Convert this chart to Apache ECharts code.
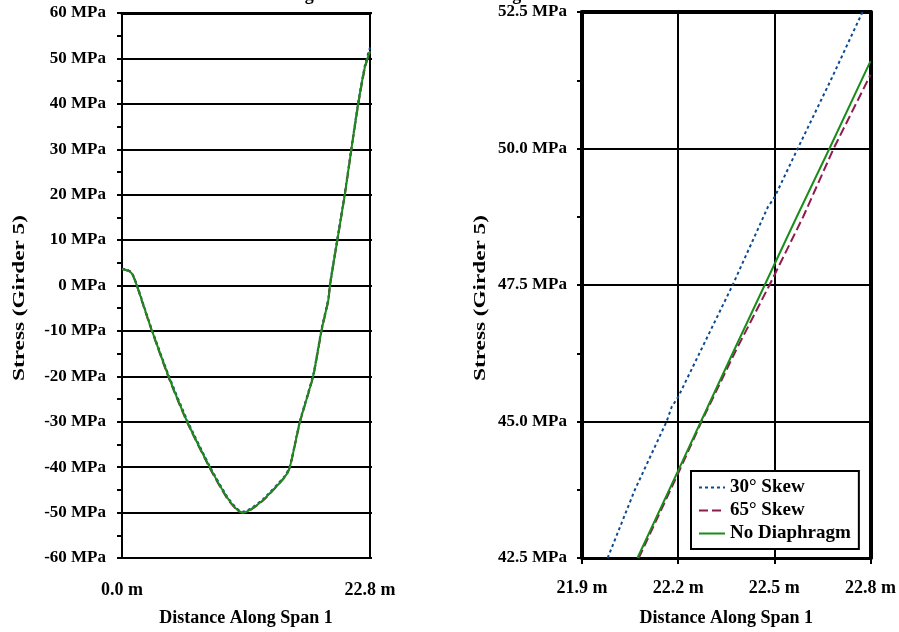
<!DOCTYPE html>
<html>
<head>
<meta charset="utf-8">
<script src="https://cdn.jsdelivr.net/npm/echarts@6/dist/echarts.min.js"></script>
<style>
  html, body { margin: 0; padding: 0; background: #fff; }
  #main { width: 899px; height: 632px; }
</style>
</head>
<body>
<div id="main"></div>
<script>
// full span (left panel)
var spanDist = [0, 0.45, 0.89, 1.35, 1.81, 2.57, 2.73, 4.26, 6.0, 8.09, 9.62, 10.55, 11.09, 11.77, 12.99, 14.98, 15.44, 16.36, 17.58, 18.35, 18.97, 19.12, 19.9, 20.5, 21.1, 21.72, 22.34, 22.8];
var spanSkew30 = [3.7, 3.5, 2.8, 0.3, -3.0, -8.5, -9.6, -19.6, -29.7, -39.9, -46.3, -49.1, -49.8, -49.2, -47.0, -41.9, -39.7, -29.8, -19.6, -9.5, -2.9, 0.4, 11.8, 20.6, 30.5, 40.4, 48.6, 52.4];
var spanSkew65 = [3.6, 3.3, 2.9, 0.1, -3.3, -8.8, -9.9, -20.1, -30.2, -40.3, -46.7, -49.4, -50.1, -49.5, -47.3, -42.2, -40.0, -30.1, -20.0, -9.9, -3.3, 0.0, 11.4, 20.2, 30.1, 39.9, 48.0, 51.4];
var spanNoDiaph = [3.6, 3.4, 2.7, 0.1, -3.2, -8.7, -9.8, -19.9, -30.0, -40.1, -46.5, -49.3, -50.0, -49.4, -47.2, -42.1, -39.9, -30.0, -19.9, -9.8, -3.2, 0.1, 11.5, 20.3, 30.2, 40.1, 48.2, 51.6];

// end of span (right panel)
var endDist30 = [21.98, 22.065, 22.164, 22.18, 22.2, 22.37, 22.48, 22.5, 22.573, 22.68, 22.775, 22.8];
var endSkew30 = [42.5, 43.75, 45.0, 45.27, 45.45, 47.5, 48.93, 49.1, 50.0, 51.3, 52.5, 52.8];
var endDist65 = [22.077, 22.2, 22.273, 22.38, 22.485, 22.59, 22.685, 22.8];
var endSkew65 = [42.5, 44.05, 45.0, 46.3, 47.5, 48.75, 50.0, 51.35];
var endDistNo = [22.073, 22.2, 22.271, 22.37, 22.47, 22.57, 22.672, 22.8];
var endNoDiaph = [42.5, 44.1, 45.0, 46.25, 47.5, 48.75, 50.0, 51.6];

var seriesNames = ['30° Skew', '65° Skew', 'No Diaphragm'];
var seriesColors = ['#0d4b91', '#8e1b4e', '#1a8c1a'];
var seriesDash = [[3, 3], [9, 4], 'solid'];

function zip(xs, ys) {
  return xs.map(function (x, i) { return [x, ys[i]]; });
}

var serif = 'Liberation Serif';
var labelFont = { fontFamily: serif, fontWeight: 'bold', fontSize: 18, color: '#000' };
var yLabelFont = { fontFamily: serif, fontWeight: 'bold', fontSize: 17, color: '#000' };

function mkSeries(name, idx, data, axisIdx, smooth) {
  return {
    name: name,
    type: 'line',
    xAxisIndex: axisIdx,
    yAxisIndex: axisIdx,
    data: data,
    symbol: 'none',
    smooth: smooth,
    clip: true,
    lineStyle: { color: seriesColors[idx], width: 2, type: seriesDash[idx] },
    itemStyle: { color: seriesColors[idx] }
  };
}

// rotated axis names, stretched along their length like the original
function yName(cx, cy) {
  return {
    type: 'text',
    x: cx, y: cy,
    rotation: Math.PI / 2,
    scaleX: 1.45,
    style: {
      text: 'Stress (Girder 5)', font: 'bold 16px "Liberation Serif"', fill: '#000',
      align: 'center', verticalAlign: 'middle'
    }
  };
}

var chart = echarts.init(document.getElementById('main'), null, { renderer: 'canvas' });

var option = {
  backgroundColor: '#fff',
  animation: false,
  graphic: [
    {
      type: 'text',
      left: 263,
      top: -14,
      style: { text: 'Strength Limit State Stress Along Girder 5', font: 'bold 18px "Liberation Serif"', fill: '#000' }
    },
    yName(20, 298),
    yName(481, 298)
  ],
  legend: {
    orient: 'vertical',
    left: 691,
    top: 471,
    padding: [7, 8, 6, 7],
    itemGap: 4,
    itemWidth: 26,
    itemHeight: 14,
    backgroundColor: '#fff',
    borderColor: '#000',
    borderWidth: 2,
    borderRadius: 0,
    itemStyle: { opacity: 0 },
    data: seriesNames,
    textStyle: { fontFamily: serif, fontWeight: 'bold', fontSize: 19, color: '#000' }
  },
  grid: [
    { left: 122, top: 13, width: 248, height: 545, show: false },
    { left: 582, top: 12, width: 289, height: 546, show: false }
  ],
  xAxis: [
    {
      gridIndex: 0, type: 'value', min: 0, max: 22.8, interval: 22.8,
      name: 'Distance Along Span 1', nameLocation: 'middle', nameGap: 51, nameTextStyle: labelFont,
      axisLine: { lineStyle: { color: '#000', width: 2 } },
      axisTick: { length: 6, lineStyle: { color: '#000', width: 2 } },
      axisLabel: Object.assign({ margin: 23, formatter: function (v) { return v.toFixed(1) + ' m'; } }, labelFont),
      splitLine: { show: false }
    },
    {
      gridIndex: 1, type: 'value', min: 21.9, max: 22.8, interval: 0.3,
      name: 'Distance Along Span 1', nameLocation: 'middle', nameGap: 51, nameTextStyle: labelFont,
      axisLine: { lineStyle: { color: '#000', width: 3 } },
      axisTick: { length: 6, lineStyle: { color: '#000', width: 2 } },
      axisLabel: Object.assign({ margin: 21, formatter: function (v) { return v.toFixed(1) + ' m'; } }, labelFont),
      splitLine: { show: true, lineStyle: { color: '#000', width: 2 } }
    },
    {
      gridIndex: 0, type: 'value', position: 'top', min: 0, max: 22.8,
      axisLine: { onZero: false, lineStyle: { color: '#000', width: 3 } },
      axisTick: { show: false }, axisLabel: { show: false }, splitLine: { show: false }
    },
    {
      gridIndex: 1, type: 'value', position: 'top', min: 21.9, max: 22.8,
      axisLine: { onZero: false, lineStyle: { color: '#000', width: 4 } },
      axisTick: { show: false }, axisLabel: { show: false }, splitLine: { show: false }
    }
  ],
  yAxis: [
    {
      gridIndex: 0, type: 'value', min: -60, max: 60, interval: 10,
      axisLine: { onZero: false, lineStyle: { color: '#000', width: 2 } },
      axisTick: { length: 5, lineStyle: { color: '#000', width: 2 } },
      minorTick: { show: true, splitNumber: 2, length: 5, lineStyle: { color: '#000', width: 2 } },
      axisLabel: Object.assign({ margin: 16, formatter: function (v) { return v + ' MPa'; } }, yLabelFont),
      splitLine: { show: true, lineStyle: { color: '#000', width: 2 } }
    },
    {
      gridIndex: 1, type: 'value', min: 42.5, max: 52.5, interval: 2.5,
      axisLine: { onZero: false, lineStyle: { color: '#000', width: 4 } },
      axisTick: { length: 5, lineStyle: { color: '#000', width: 2 } },
      minorTick: { show: true, splitNumber: 2, length: 5, lineStyle: { color: '#000', width: 2 } },
      axisLabel: Object.assign({ margin: 15, formatter: function (v) { return v.toFixed(1) + ' MPa'; } }, yLabelFont),
      splitLine: { show: true, lineStyle: { color: '#000', width: 2 } }
    },
    {
      gridIndex: 0, type: 'value', position: 'right', min: -60, max: 60, interval: 10,
      axisLine: { onZero: false, lineStyle: { color: '#000', width: 2 } },
      axisTick: { length: 2, lineStyle: { color: '#000', width: 2 } },
      axisLabel: { show: false }, splitLine: { show: false }
    },
    {
      gridIndex: 1, type: 'value', position: 'right', min: 42.5, max: 52.5, interval: 2.5,
      axisLine: { onZero: false, lineStyle: { color: '#000', width: 4 } },
      axisTick: { length: 2, lineStyle: { color: '#000', width: 2 } },
      axisLabel: { show: false }, splitLine: { show: false }
    }
  ],
  series: [
    mkSeries(seriesNames[0], 0, zip(spanDist, spanSkew30), 0, 0.2),
    mkSeries(seriesNames[1], 1, zip(spanDist, spanSkew65), 0, 0.2),
    mkSeries(seriesNames[2], 2, zip(spanDist, spanNoDiaph), 0, 0.2),
    mkSeries(seriesNames[0], 0, zip(endDist30, endSkew30), 1, false),
    mkSeries(seriesNames[1], 1, zip(endDist65, endSkew65), 1, false),
    mkSeries(seriesNames[2], 2, zip(endDistNo, endNoDiaph), 1, false)
  ]
};

chart.setOption(option);
</script>
</body>
</html>
